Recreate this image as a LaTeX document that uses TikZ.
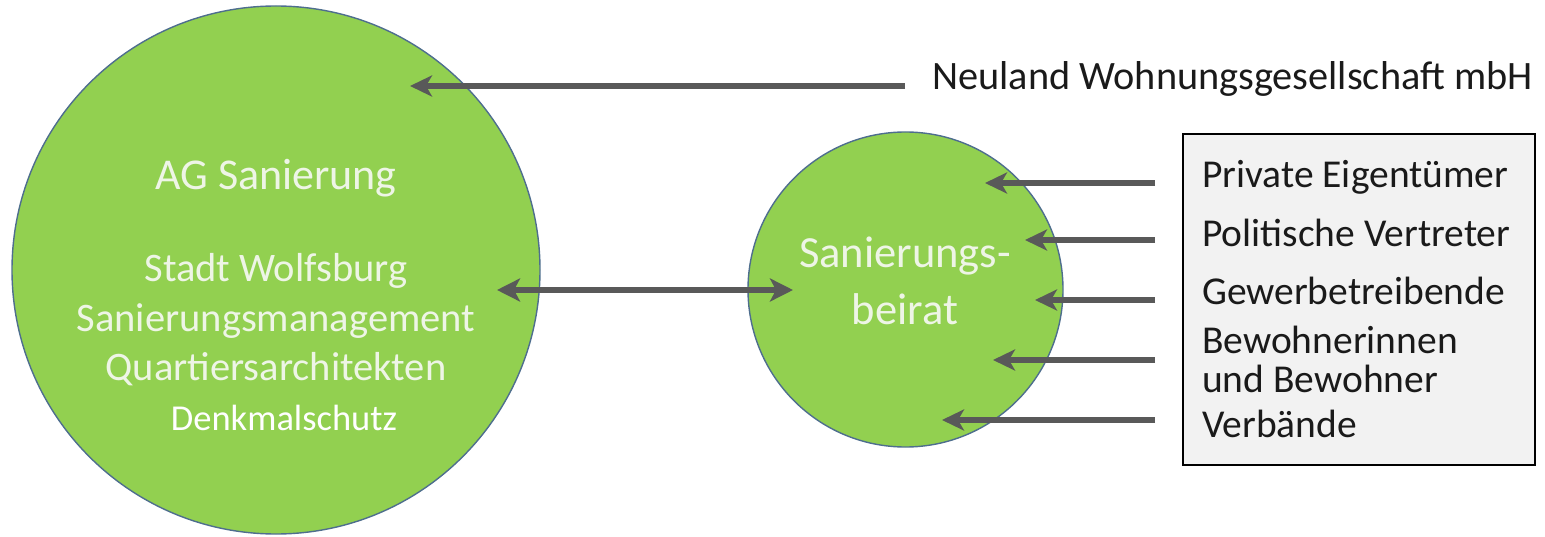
\documentclass[tikz,border=0pt]{standalone}
\usepackage{fontspec}
\setmainfont{Carlito}
\usetikzlibrary{arrows.meta}

\definecolor{leaf}{HTML}{92D050}
\definecolor{rim}{HTML}{4E6E8E}
\definecolor{shaft}{HTML}{595959}
\definecolor{panel}{HTML}{F2F2F2}
\definecolor{pale}{HTML}{EEF5E6}
\definecolor{ink}{HTML}{1A1A1A}

\tikzset{
  bubble/.style={circle, fill=leaf, draw=rim, line width=1.4pt, inner sep=0pt},
  head/.style={Stealth[length=22pt, width=21pt, inset=6pt]},
  link/.style={draw=shaft, line width=5.5pt, -{Stealth[length=22pt, width=21pt, inset=6pt]}},
  twoway/.style={draw=shaft, line width=6pt, {Stealth[length=23pt, width=23pt, inset=6pt]}-{Stealth[length=23pt, width=23pt, inset=6pt]}},
  inner/.style={text=pale, anchor=base, inner sep=0pt},
  member/.style={text=ink, anchor=base west, inner sep=0pt, font=\fontsize{39.5}{46}\selectfont},
}

\begin{document}
\begin{tikzpicture}[x=1pt, y=-1pt]
\useasboundingbox (0,0) rectangle (1545,537);

% the two working groups
\node[bubble, minimum size=528pt] (ag) at (276,270) {};
\node[bubble, minimum size=315pt] (beirat) at (905.5,289.5) {};

% labels inside the large circle
\node[inner, font=\fontsize{44}{50}\selectfont] (agtitle) at (276,190) {AG Sanierung};
\node[inner, font=\fontsize{40.5}{46}\selectfont] (stadt) at (276,282) {Stadt Wolfsburg};
\node[inner, font=\fontsize{40.5}{46}\selectfont] (mgmt) at (276,332) {Sanierungsmanagement};
\node[inner, font=\fontsize{40.5}{46}\selectfont] (arch) at (276,381) {Quartiersarchitekten};
\node[inner, text=white, font=\fontsize{36.5}{42}\selectfont] (denkmal) at (284,430) {Denkmalschutz};

% labels inside the small circle
\node[inner, font=\fontsize{44.5}{50}\selectfont] (sb1) at (905,268) {Sanierungs-};
\node[inner, font=\fontsize{44.5}{50}\selectfont] (sb2) at (905,325) {beirat};

% housing company
\node[member, font=\fontsize{40.3}{46}\selectfont] (neuland) at (932,90) {Neuland Wohnungsgesellschaft mbH};

% panel of members
\node[draw=black, fill=panel, line width=1.4pt, minimum width=352pt, minimum height=331pt, inner sep=0pt]
  (panel) at (1359,299.5) {};
\node[member] (p1) at (1202,188) {Private Eigentümer};
\node[member] (p2) at (1202,247) {Politische Vertreter};
\node[member] (p3) at (1202,305) {Gewerbetreibende};
\node[member] (p4) at (1202,353) {Bewohnerinnen};
\node[member] (p5) at (1202,392) {und Bewohner};
\node[member] (p6) at (1202,437) {Verbände};

% arrow ends
\coordinate (nstart) at (905,86);
\coordinate (ntip) at (410,86);
\coordinate (ltip) at (497,290);
\coordinate (rtip) at (793,290);
\coordinate (s1) at (1155,183);  \coordinate (t1) at (985,183);
\coordinate (s2) at (1155,240);  \coordinate (t2) at (1025,240);
\coordinate (s3) at (1155,300);  \coordinate (t3) at (1035,300);
\coordinate (s4) at (1155,360);  \coordinate (t4) at (993,360);
\coordinate (s5) at (1155,420);  \coordinate (t5) at (942,420);

% connectors
\draw[link] (nstart) -- (ntip);
\draw[twoway] (ltip) -- (rtip);
\draw[link] (s1) -- (t1);
\draw[link] (s2) -- (t2);
\draw[link] (s3) -- (t3);
\draw[link] (s4) -- (t4);
\draw[link] (s5) -- (t5);
\end{tikzpicture}
\end{document}
